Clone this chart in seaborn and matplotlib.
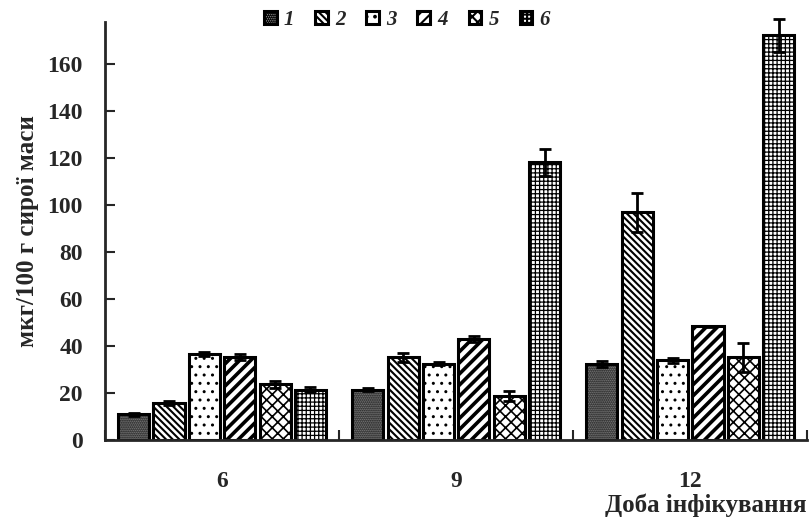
import numpy as np
import pandas as pd
import matplotlib
matplotlib.use("Agg")
import matplotlib.pyplot as plt
import seaborn as sns

days = ["6", "9", "12"]
series = ["1", "2", "3", "4", "5", "6"]

# values per series, in day order (6, 9, 12)
values = {
    "1": [11.0, 21.5, 32.5],
    "2": [16.0, 35.3, 97.0],
    "3": [36.8, 32.6, 34.0],
    "4": [35.4, 43.0, 48.5],
    "5": [23.8, 18.8, 35.3],
    "6": [21.5, 118.3, 172.3],
}
errors = {
    "1": [0.5, 0.7, 1.4],
    "2": [0.8, 2.0, 8.4],
    "3": [0.8, 0.7, 1.0],
    "4": [1.4, 1.3, 0.3],
    "5": [1.5, 2.0, 6.2],
    "6": [1.0, 5.8, 7.0],
}

hatches = ["........", "\\" * 5, "..", "///", "xxx", "++++"]
faces = ["#8f8f8f", "white", "white", "white", "white", "white"]
hatch_lw = [1.0, 1.5, 1.0, 2.6, 1.2, 0.9]

rows = []
for s in series:
    for d, v in zip(days, values[s]):
        rows.append({"day": d, "series": s, "value": v})
df = pd.DataFrame(rows)

sns.set_style("ticks")
plt.rcParams["font.family"] = ["Liberation Serif", "DejaVu Serif"]
plt.rcParams["font.weight"] = "bold"
plt.rcParams["hatch.linewidth"] = 1.5

fig = plt.figure(figsize=(8.11, 5.21), dpi=100)
ax = fig.add_axes([0.1295, 0.155, 0.866, 0.803])

sns.barplot(data=df, x="day", y="value", hue="series", order=days,
            hue_order=series, palette=["white"] * 6, width=0.906, gap=0.12,
            edgecolor="black", linewidth=2.2, legend=False, ax=ax)

for cont, s, h, fc, hl in zip(ax.containers, series, hatches, faces, hatch_lw):
    xs = []
    for bar in cont.patches:
        bar.set_hatch(h)
        bar.set_facecolor(fc)
        if hasattr(bar, "set_hatch_linewidth"):
            bar.set_hatch_linewidth(hl)
        xs.append(bar.get_x() + bar.get_width() / 2)
    eb = ax.errorbar(xs, values[s], yerr=errors[s], fmt="none", ecolor="black",
                     elinewidth=2, capsize=4, capthick=2, zorder=5)
    for art in eb.lines[1] + eb.lines[2]:
        art.set_clip_on(False)

ax.set_ylim(0, 178)
ax.set_xlim(-0.5, 2.5)
ax.set_yticks(np.arange(0, 161, 20))
ax.set_xticks([-0.5, 0.5, 1.5, 2.5], minor=False)
ax.set_xticklabels([])
ax.set_xticks([0, 1, 2], minor=True)
ax.set_xticklabels(days, minor=True)
ax.tick_params(axis="x", which="minor", length=0, pad=22, labelsize=17)
ax.tick_params(axis="x", which="major", direction="in", length=7, width=1.5)
ax.tick_params(axis="y", direction="in", length=7, width=1.5, labelsize=17, pad=16)
for lab in ax.get_yticklabels() + ax.get_xticklabels(minor=True):
    lab.set_fontweight("bold")

ax.spines["top"].set_visible(False)
ax.spines["right"].set_visible(False)
ax.spines["left"].set_linewidth(2)
ax.spines["bottom"].set_linewidth(2)

ax.set_ylabel("мкг/100 г сирої маси", fontsize=18, fontweight="bold", labelpad=6)
ax.set_xlabel("")
fig.text(0.87, 0.03, "Доба інфікування", fontsize=18, fontweight="bold",
         ha="center", va="center")

leg = ax.legend(ax.containers, series, loc="center",
                bbox_to_anchor=(0.43, 1.005), ncol=6, frameon=False,
                handlelength=0.6, handleheight=0.6, handletextpad=0.35,
                columnspacing=1.0, borderpad=0.1,
                prop={"weight": "bold", "style": "italic", "size": 15})

fig.savefig("out.png", dpi=100)
